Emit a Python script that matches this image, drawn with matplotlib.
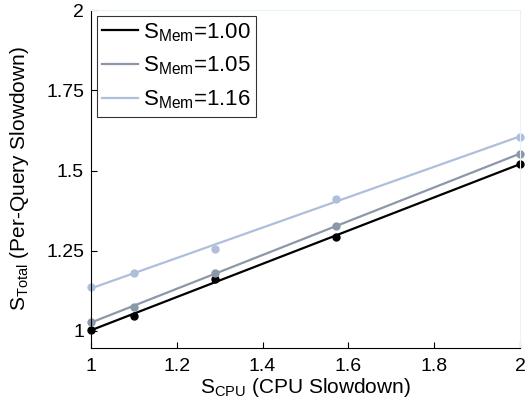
import numpy as np
import matplotlib
matplotlib.use("Agg")
import matplotlib.pyplot as plt

plt.rcParams["font.family"] = ["Liberation Sans", "DejaVu Sans"]
plt.rcParams["mathtext.fontset"] = "custom"
plt.rcParams["mathtext.rm"] = "Liberation Sans"
plt.rcParams["mathtext.it"] = "Liberation Sans"

# 量測點（S_CPU 對 S_Total），三組記憶體 slowdown
s_cpu = [1.0, 1.1, 1.29, 1.57, 2.0]
s_mem_labels = ["1.00", "1.05", "1.16"]
s_total_100 = [1.002, 1.048, 1.163, 1.293, 1.520]
s_total_105 = [1.029, 1.075, 1.180, 1.326, 1.553]
s_total_116 = [1.137, 1.182, 1.257, 1.410, 1.606]
colors = ["#000000", "#8c97aa", "#aebfdc"]

fig = plt.figure(figsize=(5.28, 4.03), dpi=100)
ax = fig.add_axes([0.1723, 0.1365, 0.8127, 0.8385])

x = np.array(s_cpu)
for lab, ys, c in zip(s_mem_labels, [s_total_100, s_total_105, s_total_116], colors):
    k, b = np.polyfit(x, ys, 1)   # 直線擬合
    xx = np.array([x.min(), x.max()])
    ax.plot(xx, k * xx + b, color=c, lw=1.6, label=r"S$_{\mathrm{Mem}}$=" + lab)
    ax.plot(x, ys, "o", color=c, ms=5, clip_on=False)

ax.set_xlim(1, 2)
ax.set_ylim(0.947, 2)
ax.set_xticks([1, 1.2, 1.4, 1.6, 1.8, 2])
ax.set_xticklabels(["1", "1.2", "1.4", "1.6", "1.8", "2"])
ax.set_yticks([1, 1.25, 1.5, 1.75, 2])
ax.set_yticklabels(["1", "1.25", "1.5", "1.75", "2"])
ax.tick_params(direction="in", length=4, labelsize=14, width=0.8, pad=5)
ax.tick_params(axis="x", pad=7)
for s in ("top", "right"):
    ax.spines[s].set_color("#e6f4f7")
ax.set_xlabel(r"S$_{\mathrm{CPU}}$ (CPU Slowdown)", fontsize=15, labelpad=1)
ax.set_ylabel(r"S$_{\mathrm{Total}}$ (Per-Query Slowdown)", fontsize=15, labelpad=11)

leg = ax.legend(loc="upper left", fontsize=16, frameon=True, fancybox=False,
                borderaxespad=0.25, handlelength=1.6, handletextpad=0.25,
                labelspacing=0.5, borderpad=0.25)
leg.get_frame().set_edgecolor("black")
leg.get_frame().set_linewidth(0.8)

fig.savefig("out.png", dpi=100)
